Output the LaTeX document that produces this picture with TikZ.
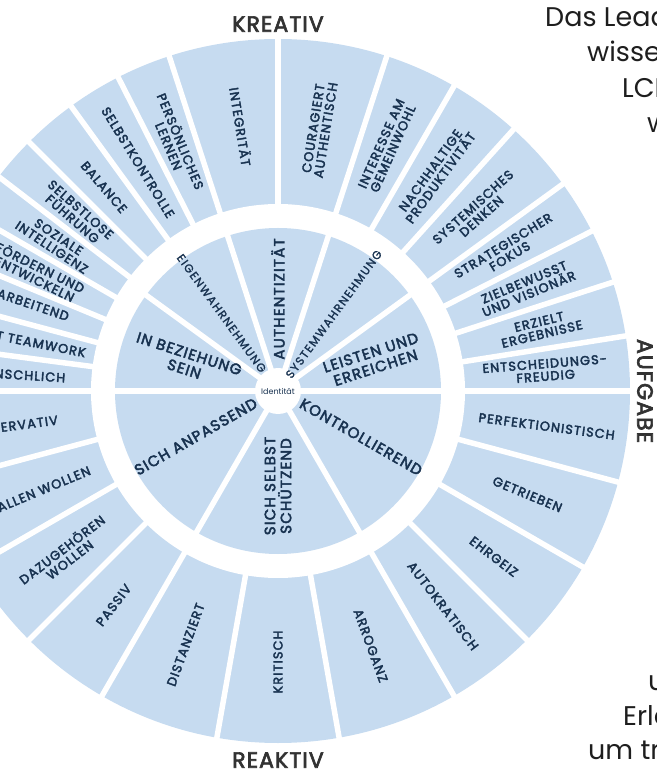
\documentclass[tikz,border=0pt]{standalone}
\usepackage{fontspec}
\setmainfont{Poppins}
\newfontfamily\segfont[FakeBold=3, LetterSpace=9]{Poppins}
\newfontfamily\innerfont[FakeBold=3, LetterSpace=8]{Poppins}
\newfontfamily\smallfont[FakeBold=1.5, LetterSpace=12]{Poppins}
\newfontfamily\bigfont[FakeBold=3, LetterSpace=5]{Poppins}
\newfontfamily\plainfont{Poppins}
\definecolor{segblue}{RGB}{198,219,240}
\definecolor{segtext}{RGB}{24,50,80}
\definecolor{labgrey}{RGB}{50,50,50}
\definecolor{sidetext}{RGB}{30,30,30}
\tikzset{
  outerlbl/.style={font=\segfont\fontsize{12.8}{12.6}\selectfont, text=segtext, align=center, inner sep=0pt},
  innerlbl/.style={font=\innerfont\fontsize{15}{16}\selectfont, text=segtext, align=center, inner sep=0pt},
  smalllbl/.style={font=\smallfont\fontsize{11.5}{12}\selectfont, text=segtext, align=center, inner sep=0pt},
  biglbl/.style={font=\bigfont\fontsize{22}{22}\selectfont, text=labgrey, inner sep=0pt},
  sidelbl/.style={font=\plainfont\fontsize{27}{30}\selectfont, text=sidetext, inner sep=0pt, anchor=base west},
  gapline/.style={white, line width=5.5pt},
}
\begin{document}
\begin{tikzpicture}[x=1pt,y=1pt]
\useasboundingbox (-278,-379) rectangle (378,391);
\clip (-278,-379) rectangle (378,391);
% rings
\fill[segblue] (0,0) circle (352);
\fill[white] (0,0) circle (187);
\fill[segblue] (0,0) circle (163);
% outer gaps
\foreach \a in {0,9,18,27,36,48,60,72,90,108,117,126,135,142.5,150,157.5,165,172.5,180,195,210,225,240,260,280,300,315,330,345}
  \draw[gapline] (\a:185) -- (\a:355);
% inner gaps
\foreach \a in {0,36,72,108,144,180,240,300}
  \draw[gapline] (0,0) -- (\a:165);
\fill[white] (0,0) circle (23);
\node[font=\plainfont\fontsize{8}{8}\selectfont, text=segtext, inner sep=0pt] (id) at (0,0) {Identität};
% inner labels
\node[innerlbl, rotate=-18] (i1) at (162:96) {IN BEZIEHUNG\\SEIN};
\node[smalllbl, rotate=-54] (i2) at (126:96) {EIGENWAHRNEHMUNG};
\node[innerlbl, rotate=90] (i3) at (90:92) {AUTHENTIZITÄT};
\node[smalllbl, rotate=54] (i4) at (54:95) {SYSTEMWAHRNEHMUNG};
\node[innerlbl, rotate=18] (i5) at (18:100) {LEISTEN UND\\ERREICHEN};
\node[innerlbl, rotate=-30] (i6) at (-29:95) {KONTROLLIEREND};
\node[innerlbl, rotate=90] (i7) at (-90:95) {SICH SELBST\\SCHÜTZEND};
\node[innerlbl, rotate=30] (i8) at (-151:94) {SICH ANPASSEND};
% outer labels, upper right
\node[outerlbl, rotate=4.5] (o1) at (4.5:268) {ENTSCHEIDUNGS-\\FREUDIG};
\node[outerlbl, rotate=13.5] (o2) at (13.5:270) {ERZIELT\\ERGEBNISSE};
\node[outerlbl, rotate=22.5] (o3) at (22.5:269) {ZIELBEWUSST\\UND VISIONÄR};
\node[outerlbl, rotate=31.5] (o4) at (31.5:268) {STRATEGISCHER\\FOKUS};
\node[outerlbl, rotate=42] (o5) at (42:268) {SYSTEMISCHES\\DENKEN};
\node[outerlbl, rotate=54] (o6) at (54:268) {NACHHALTIGE\\PRODUKTIVITÄT};
\node[outerlbl, rotate=66] (o7) at (66:268) {INTERESSE AM\\GEMEINWOHL};
\node[outerlbl, rotate=81] (o8) at (81:265) {COURAGIERT\\AUTHENTISCH};
% upper left
\node[outerlbl, rotate=-81] (o9) at (98:267) {INTEGRITÄT};
\node[outerlbl, rotate=-67.5] (o10) at (112.5:268) {PERSÖNLICHES\\LERNEN};
\node[outerlbl, rotate=-58.5] (o11) at (121.5:268) {SELBSTKONTROLLE};
\node[outerlbl, rotate=-49.5] (o12) at (130.5:268) {BALANCE};
\node[outerlbl, rotate=-41.25] (o13) at (138.75:268) {SELBSTLOSE\\FÜHRUNG};
\node[outerlbl, rotate=-33.75] (o14) at (146.25:268) {SOZIALE\\INTELLIGENZ};
\node[outerlbl, rotate=-26.25] (o15) at (153.75:268) {FÖRDERN UND\\ENTWICKELN};
\node[outerlbl, rotate=-18.75, anchor=east] (o16) at (160.5:222) {ZUSAMMENARBEITEND};
\node[outerlbl, rotate=-11.25, anchor=east] (o17) at (168.5:196) {FÖRDERT TEAMWORK};
\node[outerlbl, rotate=-3.75, anchor=east] (o18) at (176.5:213) {MENSCHLICH};
% lower left
\node[outerlbl, rotate=7.5, anchor=east] (o19) at (-172.5:222) {KONSERVATIV};
\node[outerlbl, rotate=22.5, anchor=east] (o20) at (-157.2:204) {GEFALLEN WOLLEN};
\node[outerlbl, rotate=37.5] (o21) at (-142.5:268) {DAZUGEHÖREN\\WOLLEN};
\node[outerlbl, rotate=52.5] (o22) at (-127.5:270) {PASSIV};
\node[outerlbl, rotate=70] (o23) at (-110:270) {DISTANZIERT};
\node[outerlbl, rotate=90] (o24) at (-90:271) {KRITISCH};
% lower right
\node[outerlbl, rotate=-70] (o25) at (-70:271) {ARROGANZ};
\node[outerlbl, rotate=-52.5] (o26) at (-52.5:271) {AUTOKRATISCH};
\node[outerlbl, rotate=-37.5] (o27) at (-37.5:272) {EHRGEIZ};
\node[outerlbl, rotate=-22.5] (o28) at (-22.5:270) {GETRIEBEN};
\node[outerlbl, rotate=-7.5] (o29) at (-7.5:271) {PERFEKTIONISTISCH};
% axis labels
\node[biglbl] (kreativ) at (0,367) {KREATIV};
\node[biglbl, rotate=-90] (aufgabe) at (367,0) {AUFGABE};
\node[biglbl] (reaktiv) at (0,-369) {REAKTIV};
% side text (cut by the page edge)
\node[sidelbl] (s1) at (267,364) {Das Lead};
\node[sidelbl] (s2) at (309,329) {wissen};
\node[sidelbl] (s3) at (344,293) {LCP};
\node[sidelbl] (s4) at (369,258) {w};
\node[sidelbl] (s5) at (370,-299) {un};
\node[sidelbl] (s6) at (345,-334) {Erle};
\node[sidelbl] (s7) at (310,-368) {um tra};
\end{tikzpicture}
\end{document}
